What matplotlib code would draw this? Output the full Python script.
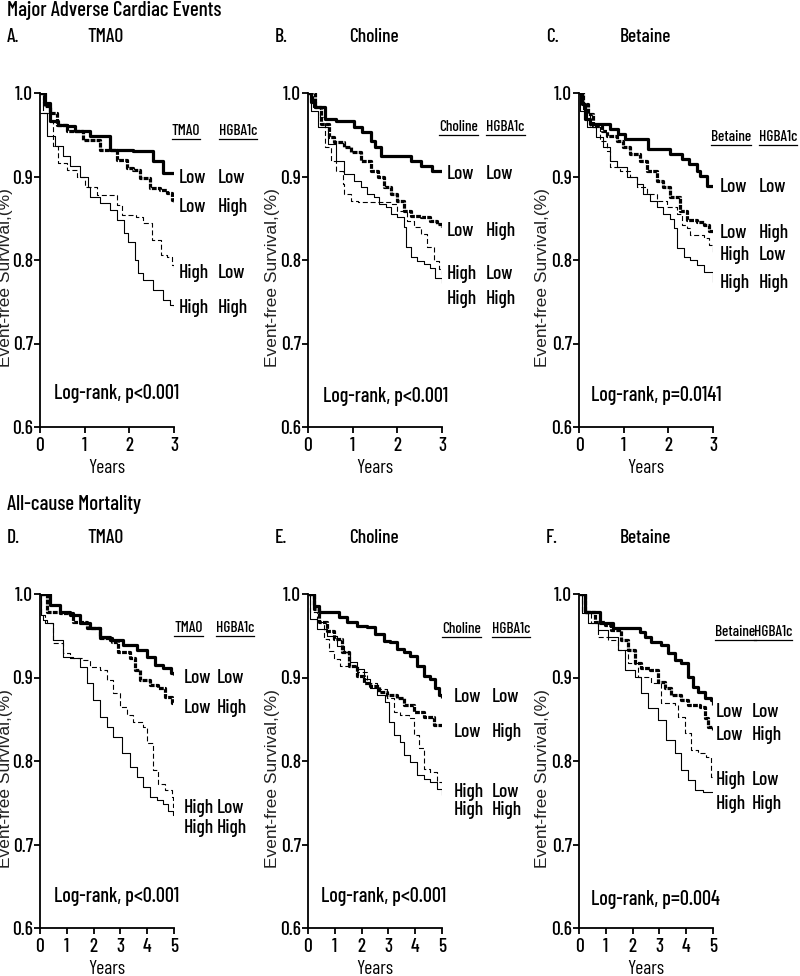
import matplotlib
matplotlib.use("Agg")
import matplotlib.pyplot as plt
from matplotlib import font_manager as fm
from matplotlib.lines import Line2D

# pick a narrow sans (the original text is strongly condensed)
available = {f.name for f in fm.fontManager.ttflist}
narrow = [n for n in ["Barlow Condensed", "Pragati Narrow", "PT Sans Narrow",
                      "Archivo Narrow", "Roboto Condensed"] if n in available]
plt.rcParams["font.family"] = narrow[:1] + ["DejaVu Sans"]
plt.rcParams["font.weight"] = "medium"

# ---- data: (years, event-free survival) ----
# A. MACE, TMAO
a_low_low = [(0, 1.0), (0.11, 0.988), (0.22, 0.966), (0.41, 0.962), (0.6, 0.96), (0.78, 0.954),
             (1.12, 0.948), (1.57, 0.932), (2.09, 0.93), (2.54, 0.918), (2.76, 0.904), (3.0, 0.904)]
a_low_high = [(0, 1.0), (0.1, 0.985), (0.22, 0.976), (0.37, 0.962), (0.6, 0.954), (0.97, 0.944),
              (1.34, 0.932), (1.72, 0.92), (1.94, 0.91), (2.09, 0.908), (2.24, 0.898), (2.46, 0.886),
              (2.69, 0.884), (2.84, 0.88), (2.95, 0.872), (3.0, 0.87)]
a_high_low = [(0, 1.0), (0.07, 0.976), (0.22, 0.968), (0.3, 0.936), (0.41, 0.916), (0.6, 0.908),
              (0.82, 0.9), (1.01, 0.888), (1.27, 0.878), (1.72, 0.866), (1.83, 0.854), (2.16, 0.852),
              (2.31, 0.844), (2.5, 0.824), (2.72, 0.806), (2.84, 0.804), (2.95, 0.794), (3.0, 0.788)]
a_high_high = [(0, 0.976), (0.15, 0.948), (0.34, 0.936), (0.52, 0.924), (0.67, 0.912), (0.9, 0.9),
               (1.08, 0.888), (1.12, 0.876), (1.34, 0.868), (1.57, 0.86), (1.72, 0.848), (1.87, 0.832),
               (1.98, 0.822), (2.13, 0.8), (2.2, 0.784), (2.31, 0.776), (2.54, 0.764), (2.76, 0.752),
               (2.91, 0.746), (3.0, 0.744)]

# B. MACE, Choline
b_low_low = [(0, 1.0), (0.07, 0.989), (0.15, 0.983), (0.37, 0.969), (0.63, 0.967), (1.04, 0.959),
             (1.22, 0.953), (1.41, 0.943), (1.5, 0.935), (1.63, 0.925), (2.3, 0.919), (2.52, 0.913),
             (2.78, 0.907), (3.0, 0.907)]
b_low_high = [(0, 1.0), (0.15, 0.983), (0.3, 0.963), (0.48, 0.947), (0.59, 0.941), (0.81, 0.935),
              (0.96, 0.929), (1.19, 0.919), (1.41, 0.907), (1.56, 0.899), (1.7, 0.887), (1.85, 0.879),
              (2.0, 0.871), (2.15, 0.859), (2.3, 0.853), (2.52, 0.851), (2.74, 0.847), (2.89, 0.843),
              (3.0, 0.839)]
b_high_low = [(0, 1.0), (0.11, 0.983), (0.26, 0.971), (0.37, 0.935), (0.52, 0.919), (0.63, 0.907),
              (0.78, 0.891), (0.81, 0.879), (0.96, 0.871), (1.11, 0.869), (1.85, 0.867), (2.0, 0.859),
              (2.22, 0.847), (2.37, 0.839), (2.52, 0.831), (2.67, 0.815), (2.81, 0.799), (2.93, 0.789),
              (3.0, 0.783)]
b_high_high = [(0, 1.0), (0.07, 0.979), (0.22, 0.959), (0.44, 0.939), (0.63, 0.919), (0.81, 0.903),
               (1.04, 0.895), (1.19, 0.887), (1.33, 0.879), (1.48, 0.875), (1.59, 0.867), (1.74, 0.863),
               (1.85, 0.855), (2.0, 0.851), (2.15, 0.839), (2.19, 0.815), (2.3, 0.803), (2.44, 0.799),
               (2.59, 0.795), (2.74, 0.791), (2.85, 0.779), (3.0, 0.773)]

# C. MACE, Betaine
c_low_low = [(0, 1.0), (0.06, 0.987), (0.13, 0.969), (0.25, 0.963), (0.7, 0.957), (0.88, 0.951),
             (1.03, 0.945), (1.55, 0.933), (2.04, 0.927), (2.3, 0.921), (2.47, 0.915), (2.64, 0.907),
             (2.72, 0.901), (2.87, 0.889), (3.0, 0.889)]
c_low_high = [(0, 1.0), (0.1, 0.987), (0.21, 0.975), (0.32, 0.961), (0.51, 0.955), (0.62, 0.949),
              (0.84, 0.943), (0.99, 0.935), (1.14, 0.927), (1.37, 0.919), (1.52, 0.907), (1.74, 0.895),
              (1.89, 0.887), (2.04, 0.875), (2.27, 0.859), (2.42, 0.848), (2.64, 0.846), (2.79, 0.842),
              (2.9, 0.835), (3.0, 0.834)]
c_high_low = [(0, 1.0), (0.1, 0.979), (0.25, 0.959), (0.47, 0.943), (0.62, 0.931), (0.7, 0.911),
              (0.92, 0.907), (1.14, 0.899), (1.29, 0.887), (1.52, 0.879), (1.74, 0.871), (1.97, 0.863),
              (2.19, 0.855), (2.3, 0.842), (2.42, 0.838), (2.49, 0.83), (2.79, 0.826), (2.9, 0.818),
              (3.0, 0.81)]
c_high_high = [(0, 1.0), (0.02, 0.979), (0.17, 0.959), (0.39, 0.947), (0.54, 0.935), (0.69, 0.919),
               (0.84, 0.911), (1.07, 0.899), (1.29, 0.891), (1.44, 0.879), (1.59, 0.871), (1.74, 0.863),
               (1.89, 0.855), (2.04, 0.849), (2.12, 0.838), (2.19, 0.814), (2.34, 0.804), (2.49, 0.8),
               (2.64, 0.794), (2.79, 0.786), (3.0, 0.774)]

# D. Mortality, TMAO
d_low_low = [(0, 1.0), (0.37, 0.987), (0.75, 0.979), (1.12, 0.975), (1.49, 0.965), (1.87, 0.959),
             (2.24, 0.949), (2.61, 0.945), (3.11, 0.939), (3.61, 0.933), (3.98, 0.925), (4.29, 0.915),
             (4.6, 0.911), (4.9, 0.905), (5.0, 0.903)]
d_low_high = [(0, 1.0), (0.25, 0.979), (0.75, 0.977), (1.24, 0.967), (1.74, 0.959), (2.24, 0.947),
              (2.67, 0.943), (2.92, 0.931), (3.36, 0.923), (3.54, 0.909), (3.73, 0.897), (4.1, 0.891),
              (4.42, 0.887), (4.66, 0.877), (4.91, 0.869), (5.0, 0.869)]
d_high_low = [(0, 1.0), (0.05, 0.975), (0.19, 0.965), (0.5, 0.941), (0.87, 0.929), (1.12, 0.923),
              (1.62, 0.921), (1.87, 0.913), (2.24, 0.909), (2.49, 0.897), (2.74, 0.881), (2.99, 0.865),
              (3.23, 0.855), (3.48, 0.847), (3.86, 0.841), (3.98, 0.821), (4.23, 0.789), (4.42, 0.773),
              (4.66, 0.765), (4.91, 0.757), (4.98, 0.745), (5.0, 0.745)]
d_high_high = [(0, 1.0), (0.05, 0.975), (0.12, 0.969), (0.25, 0.965), (0.5, 0.945), (0.87, 0.925),
               (1.24, 0.923), (1.49, 0.913), (1.74, 0.893), (1.99, 0.873), (2.24, 0.853), (2.49, 0.841),
               (2.74, 0.829), (3.05, 0.809), (3.36, 0.793), (3.61, 0.781), (3.86, 0.769), (4.1, 0.757),
               (4.35, 0.753), (4.6, 0.749), (4.79, 0.74), (4.98, 0.735), (5.0, 0.735)]

# E. Mortality, Choline
e_low_low = [(0, 1.0), (0.21, 0.986), (0.4, 0.978), (1.14, 0.972), (1.46, 0.966), (1.83, 0.962),
             (2.2, 0.96), (2.51, 0.952), (2.82, 0.944), (3.07, 0.942), (3.32, 0.934), (3.57, 0.93),
             (3.82, 0.926), (4.07, 0.914), (4.32, 0.902), (4.56, 0.898), (4.75, 0.887), (4.88, 0.879),
             (5.0, 0.875)]
e_low_high = [(0, 1.0), (0.21, 0.982), (0.4, 0.966), (0.71, 0.956), (0.96, 0.946), (1.27, 0.93),
              (1.52, 0.914), (1.83, 0.902), (2.08, 0.894), (2.32, 0.89), (2.64, 0.883), (2.95, 0.879),
              (3.32, 0.875), (3.57, 0.867), (3.94, 0.859), (4.32, 0.853), (4.69, 0.843), (5.0, 0.841)]
e_high_low = [(0, 1.0), (0.09, 0.978), (0.34, 0.966), (0.58, 0.946), (0.77, 0.932), (0.96, 0.922),
              (1.21, 0.914), (1.83, 0.906), (2.2, 0.894), (2.57, 0.886), (2.95, 0.875), (3.2, 0.859),
              (3.45, 0.855), (3.76, 0.851), (3.94, 0.831), (4.13, 0.815), (4.32, 0.791), (4.56, 0.787),
              (4.81, 0.775), (5.0, 0.771)]
e_high_high = [(0, 1.0), (0.09, 0.97), (0.34, 0.958), (0.71, 0.95), (1.08, 0.938), (1.33, 0.93),
               (1.58, 0.918), (1.83, 0.91), (2.08, 0.898), (2.32, 0.887), (2.57, 0.879), (2.89, 0.871),
               (3.01, 0.847), (3.2, 0.831), (3.45, 0.823), (3.57, 0.807), (3.82, 0.799), (4.07, 0.783),
               (4.32, 0.779), (4.56, 0.775), (4.81, 0.767), (5.0, 0.759)]

# F. Mortality, Betaine
f_low_low = [(0, 1.0), (0.21, 0.978), (0.77, 0.965), (1.27, 0.959), (2.26, 0.955), (2.45, 0.949),
             (2.7, 0.943), (3.07, 0.939), (3.32, 0.929), (3.57, 0.921), (3.82, 0.917), (4.07, 0.901),
             (4.25, 0.889), (4.44, 0.883), (4.69, 0.875), (4.94, 0.873), (5.0, 0.867)]
f_low_high = [(0, 1.0), (0.21, 0.979), (0.58, 0.967), (0.96, 0.963), (1.21, 0.957), (1.58, 0.945),
              (1.83, 0.933), (2.08, 0.917), (2.33, 0.911), (2.64, 0.909), (2.95, 0.895), (3.2, 0.887),
              (3.45, 0.879), (3.82, 0.873), (4.07, 0.867), (4.5, 0.865), (4.69, 0.851), (4.81, 0.841),
              (5.0, 0.837)]
f_high_low = [(0, 1.0), (0.1, 0.98), (0.46, 0.965), (0.71, 0.949), (1.08, 0.945), (1.45, 0.933),
              (1.83, 0.917), (2.2, 0.901), (2.7, 0.893), (3.07, 0.869), (3.57, 0.867), (3.7, 0.853),
              (3.94, 0.833), (4.19, 0.813), (4.44, 0.809), (4.75, 0.805), (4.94, 0.781), (5.0, 0.781)]
f_high_high = [(0, 1.0), (0.1, 0.977), (0.34, 0.965), (0.71, 0.957), (1.08, 0.949), (1.45, 0.933),
               (1.7, 0.909), (2.08, 0.901), (2.33, 0.881), (2.58, 0.863), (2.95, 0.849), (3.26, 0.825),
               (3.57, 0.809), (3.82, 0.789), (4.07, 0.777), (4.32, 0.765), (4.63, 0.763), (5.0, 0.763)]

panel_letters = ["A.", "B.", "C.", "D.", "E.", "F."]
panel_titles = ["TMAO", "Choline", "Betaine", "TMAO", "Choline", "Betaine"]
pvalues = ["Log-rank, p<0.001", "Log-rank, p<0.001", "Log-rank, p=0.0141",
           "Log-rank, p<0.001", "Log-rank, p<0.001", "Log-rank, p=0.004"]
years_max = [3, 3, 3, 5, 5, 5]
curves = [
    [a_low_low, a_low_high, a_high_low, a_high_high],
    [b_low_low, b_low_high, b_high_low, b_high_high],
    [c_low_low, c_low_high, c_high_low, c_high_high],
    [d_low_low, d_low_high, d_high_low, d_high_high],
    [e_low_low, e_low_high, e_high_low, e_high_high],
    [f_low_low, f_low_high, f_high_low, f_high_high],
]
group_names = [("Low", "Low"), ("Low", "High"), ("High", "Low"), ("High", "High")]

# label positions per panel: (x col1, x col2, header y, [y for each group], (pval x, pval y))
label_pos = [
    (3.1, 3.99, 0.955, [0.898, 0.864, 0.784, 0.742], (1.72, 0.64)),
    (3.1, 3.99, 0.959, [0.903, 0.835, 0.783, 0.753], (1.74, 0.637)),
    (3.16, 4.02, 0.947, [0.887, 0.832, 0.806, 0.772], (1.74, 0.638)),
    (5.35, 6.6, 0.959, [0.899, 0.863, 0.744, 0.72], (2.86, 0.638)),
    (5.44, 6.87, 0.958, [0.877, 0.835, 0.763, 0.741], (2.82, 0.638)),
    (5.09, 6.45, 0.954, [0.859, 0.831, 0.777, 0.749], (2.84, 0.634)),
]
header_x = [(2.95, 4.01), (2.93, 3.99), (2.96, 4.02), (5.0, 6.57), (5.0, 6.87), (5.09, 6.52)]

styles = [
    dict(lw=2.3, ls="-"),
    dict(lw=2.3, ls=(0, (1.5, 0.4))),
    dict(lw=0.8, ls=(0, (4.5, 2.5))),
    dict(lw=0.8, ls="-"),
]

W, H = 800, 976
fig = plt.figure(figsize=(W / 100, H / 100), dpi=100)

ax_left = [40, 308, 579]
ax_w = 134
row_top = [93, 594]
ax_h = 334

underline = []
for i in range(6):
    r, c = divmod(i, 3)
    left = ax_left[c]
    top = row_top[r]
    ax = fig.add_axes([left / W, (H - top - ax_h) / H, ax_w / W, ax_h / H])
    for pts, st in zip(curves[i], styles):
        t = [p[0] for p in pts]
        s = [p[1] for p in pts]
        ax.step(t, s, where="post", color="black", solid_capstyle="butt",
                dash_capstyle="butt", **st)
    ax.set_xlim(0, years_max[i])
    ax.set_ylim(0.6, 1.0)
    ax.set_xticks(range(years_max[i] + 1))
    ax.set_yticks([0.6, 0.7, 0.8, 0.9, 1.0])
    ax.set_yticklabels(["0.6", "0.7", "0.8", "0.9", "1.0"])
    for sp in ["top", "right"]:
        ax.spines[sp].set_visible(False)
    for sp in ["left", "bottom"]:
        ax.spines[sp].set_linewidth(1.3)
    ax.tick_params(direction="out", length=4, width=1.3, labelsize=14)
    ax.tick_params(axis="y", pad=1)
    ax.tick_params(axis="x", pad=3)
    ax.set_xlabel("Years", fontsize=14, labelpad=3)

    x1, x2, hy, gys, (px, py) = label_pos[i]
    hx1, hx2 = header_x[i]
    for name, xx in zip([panel_titles[i], "HGBA1c"], [hx1, hx2]):
        tx = ax.text(xx, hy, name, fontsize=11, va="center", ha="left", clip_on=False)
        underline.append(tx)
    for (g1, g2), gy in zip(group_names, gys):
        ax.text(x1, gy, g1, fontsize=14, va="center", ha="left", clip_on=False)
        ax.text(x2, gy, g2, fontsize=14, va="center", ha="left", clip_on=False)
    ax.text(px, py, pvalues[i], fontsize=14.5, va="center", ha="center")

    # panel letter and title
    fig.text((left - 33) / W, 1 - (top - 56) / H, panel_letters[i], fontsize=14, va="center")
    fig.text((left + 66) / W, 1 - (top - 56) / H, panel_titles[i], fontsize=14,
             va="center", ha="center")
    # y label
    ylx = 6 if c == 0 else left - 36
    fig.text(ylx / W, 1 - (top + ax_h / 2 + 18) / H, "Event-free Survival,(%)",
             rotation=90, va="center", ha="center", fontsize=12.5, fontweight="normal",
             family=["Liberation Sans", "DejaVu Sans"], color="#222222")

fig.text(7 / W, 1 - 11 / H, "Major Adverse Cardiac Events", fontsize=15, va="center")
fig.text(7 / W, 1 - 505 / H, "All-cause Mortality", fontsize=15, va="center")

# underline the column headers
fig.canvas.draw()
rend = fig.canvas.get_renderer()
for tx in underline:
    bb = tx.get_window_extent(rend)
    y = bb.y0 - 1
    fig.add_artist(Line2D([bb.x0 / W, bb.x1 / W], [y / H, y / H], color="black", lw=0.9))

fig.savefig("out.png", dpi=100)
